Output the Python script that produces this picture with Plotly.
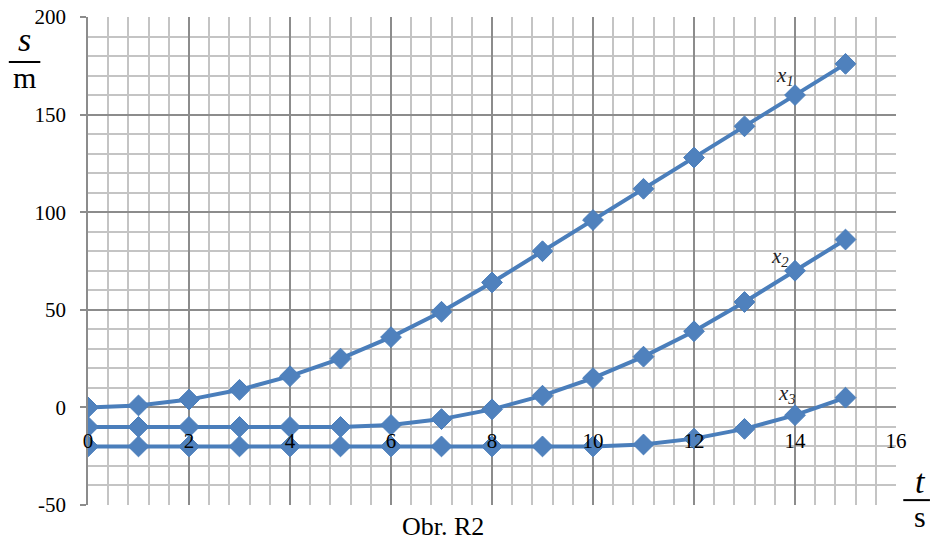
import plotly.graph_objects as go

t = list(range(16))
x1 = [0, 1, 4, 9, 16, 25, 36, 49, 64, 80, 96, 112, 128, 144, 160, 176]
x2 = [-10, -10, -10, -10, -10, -10, -9, -6, -1, 6, 15, 26, 39, 54, 70, 86]
x3 = [-20, -20, -20, -20, -20, -20, -20, -20, -20, -20, -20, -19, -16, -11, -4, 5]

series_names = ['x<sub>1</sub>', 'x<sub>2</sub>', 'x<sub>3</sub>']
label_pos = [(13.8, 170), (13.7, 77), (13.85, 7)]

x_ticks = list(range(0, 17, 2))
y_ticks = list(range(-50, 201, 50))
y_ticktext = [str(v) for v in y_ticks]  # plain hyphen as in the original

blue = '#4A7EBB'
serif = 'Liberation Serif, Times New Roman, serif'


def paper_text(x, y, text, size):
    fig.add_annotation(xref='paper', yref='paper', x=x, y=y, text=text, showarrow=False,
                       xanchor='center', yanchor='middle',
                       font={'family': serif, 'size': size, 'color': 'black'})


fig = go.Figure()
for ys in (x1, x2, x3):
    fig.add_trace(go.Scatter(
        x=t, y=ys, mode='lines+markers',
        line={'color': blue, 'width': 4},
        marker={'symbol': 'diamond', 'size': 16, 'color': '#4F81BD',
                'line': {'color': blue, 'width': 1}},
        showlegend=False, hoverinfo='x+y',
    ))

# curve labels
for name, (lx, ly) in zip(series_names, label_pos):
    fig.add_annotation(x=lx, y=ly, text='<i>' + name + '</i>', showarrow=False,
                       xanchor='center', yanchor='middle',
                       font={'family': serif, 'size': 21, 'color': '#222222'})

# axis titles drawn as fractions
paper_text(-0.078, 0.953, '<i>s</i>', 34)
paper_text(-0.078, 0.877, 'm', 30)
fig.add_shape(type='line', xref='paper', yref='paper', x0=-0.098, x1=-0.059, y0=0.908, y1=0.908,
              line={'color': 'black', 'width': 2})

paper_text(1.030, 0.048, '<i>t</i>', 34)
paper_text(1.030, -0.023, 's', 30)
fig.add_shape(type='line', xref='paper', yref='paper', x0=1.009, x1=1.042, y0=0.010, y1=0.010,
              line={'color': 'black', 'width': 2})

paper_text(0.439, -0.045, 'Obr. R2', 26)

xaxis = {
    'range': [0, 16],
    'tickvals': x_ticks,
    'showgrid': True, 'gridcolor': '#8c8c8c', 'gridwidth': 1.5,
    'minor': {'dtick': 0.4, 'showgrid': True, 'gridcolor': '#c4c4c4', 'gridwidth': 1.5},
    'zeroline': False,
    'showline': False,
    'automargin': False,
    'anchor': 'free', 'position': 0.2,  # axis crosses at s = 0
    'ticks': 'outside', 'ticklen': 14, 'tickcolor': 'rgba(0,0,0,0)',
    'tickfont': {'family': serif, 'size': 21, 'color': 'black'},
}
yaxis = {
    'range': [-50, 200],
    'tickvals': y_ticks, 'ticktext': y_ticktext,
    'showgrid': True, 'gridcolor': '#8c8c8c', 'gridwidth': 1.5,
    'minor': {'dtick': 10, 'showgrid': True, 'gridcolor': '#c4c4c4', 'gridwidth': 1.5},
    'zeroline': False,
    'showline': True, 'linecolor': '#8c8c8c', 'linewidth': 1.5,
    'automargin': False,
    'ticks': 'outside', 'ticklen': 6, 'tickcolor': '#8c8c8c', 'tickwidth': 1.5,
    'ticklabelstandoff': 10,
    'tickfont': {'family': serif, 'size': 21, 'color': 'black'},
}

fig.update_layout(width=930, height=544, template='plotly_white',
                  plot_bgcolor='white', paper_bgcolor='white',
                  xaxis=xaxis, yaxis=yaxis,
                  margin=go.layout.Margin(l=88, r=34, t=17, b=39, autoexpand=False))
# drop the default page margin so the 930x544 figure fills the window exactly
fig.write_html('out.html', config={'displayModeBar': False},
               post_script="document.body.style.margin = '0';")
